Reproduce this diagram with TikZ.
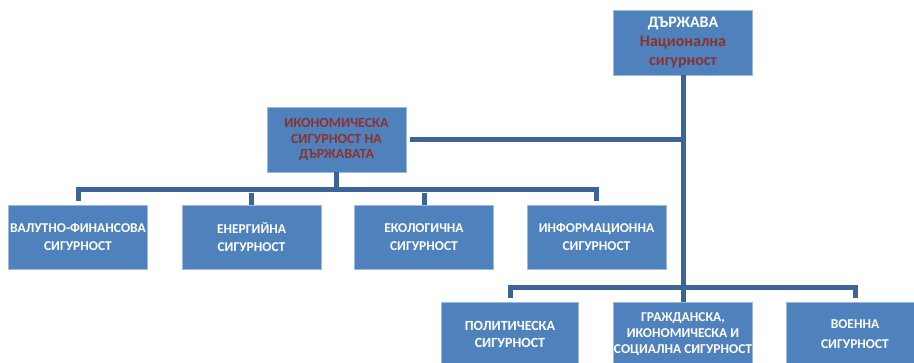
\documentclass[tikz,border=0pt]{standalone}
\usepackage{fontspec}
\setmainfont{Carlito}
\definecolor{boxblue}{RGB}{79,129,189}
\definecolor{linkblue}{RGB}{60,100,150}
\definecolor{darkred}{RGB}{140,50,45}
\begin{document}
\begin{tikzpicture}[x=1pt,y=-1pt,
	unit/.style={draw=boxblue!55!white,fill=boxblue,minimum width=139pt,minimum height=64pt,inner sep=0pt,align=center,text=white,font=\bfseries\fontsize{13.5}{18}\selectfont},
	link/.style={draw=linkblue,line width=5pt}]
	\useasboundingbox(0,0)rectangle(914,362);
	\node[unit,minimum height=65pt,font=\bfseries\fontsize{16}{19}\selectfont](state)at(683,42.5){ДЪРЖАВА\\\textcolor{darkred}{Национална}\\\textcolor{darkred}{сигурност}};
	\node[unit,minimum height=65pt,text=darkred,font=\bfseries\fontsize{14}{15.5}\selectfont](econ)at(336.5,139.5){ИКОНОМИЧЕСКА\\СИГУРНОСТ НА\\ДЪРЖАВАТА};
	\node[unit](val)at(78,237){ВАЛУТНО-ФИНАНСОВА\\СИГУРНОСТ};
	\node[unit](ener)at(251.5,237){ЕНЕРГИЙНА\\СИГУРНОСТ};
	\node[unit](eco)at(424,237){ЕКОЛОГИЧНА\\СИГУРНОСТ};
	\node[unit](info)at(596.5,237){ИНФОРМАЦИОННА\\СИГУРНОСТ};
	\node[unit,minimum width=137pt,font=\bfseries\fontsize{14}{17}\selectfont](pol)at(510,334){ПОЛИТИЧЕСКА\\СИГУРНОСТ};
	\node[unit,font=\bfseries\fontsize{13.5}{16}\selectfont](civ)at(683,334){ГРАЖДАНСКА,\\ИКОНОМИЧЕСКА И\\СОЦИАЛНА СИГУРНОСТ};
	\node[unit,minimum width=137pt,font=\bfseries\fontsize{13.5}{20}\selectfont](mil)at(855,334){ВОЕННА\\СИГУРНОСТ};
	\coordinate(eb)at(336.5,189);
	\coordinate(sb)at(683,287);
	\draw[link](state)--(civ);
	\draw[link,shorten <=4pt](econ)--(econ-|state);
	\draw[link](econ)--(eb);
	\draw[link,shorten <=4pt,shorten >=4pt](val)|-(eb)-|(info);
	\draw[link,shorten >=4pt](ener)--(ener|-eb);
	\draw[link,shorten >=4pt](eco)--(eco|-eb);
	\draw[link,shorten <=4pt,shorten >=4pt](pol)|-(sb)-|(mil);
\end{tikzpicture}
\end{document}
